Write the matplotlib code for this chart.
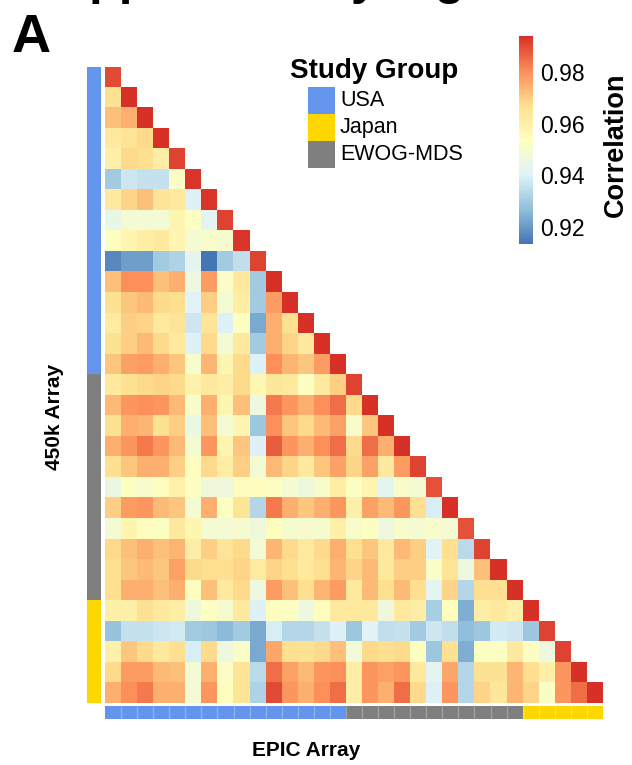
import numpy as np
import matplotlib
matplotlib.use("Agg")
from matplotlib import pyplot as plt
from matplotlib.colors import LinearSegmentedColormap, ListedColormap
from matplotlib.patches import Rectangle

plt.rcParams['font.family'] = ['Liberation Sans', 'DejaVu Sans']

# groups, same order on both axes (top->bottom, left->right)
groups = ["USA"] * 15 + ["EWOG-MDS"] * 11 + ["Japan"] * 5
group_colors = {"USA": "#6495ED", "Japan": "#FFD700", "EWOG-MDS": "#7F7F7F"}
legend_order = ["USA", "Japan", "EWOG-MDS"]
cbar_ticks = [0.92, 0.94, 0.96, 0.98]

# lower triangle correlations (450k rows vs EPIC columns), row i has i+1 values
usa_rows = [
    [0.990],
    [0.966, 0.994],
    [0.972, 0.975, 0.994],
    [0.963, 0.965, 0.968, 0.994],
    [0.960, 0.968, 0.967, 0.961, 0.991],
    [0.930, 0.937, 0.936, 0.936, 0.952, 0.993],
    [0.963, 0.969, 0.972, 0.965, 0.963, 0.940, 0.993],
    [0.944, 0.949, 0.948, 0.948, 0.958, 0.953, 0.942, 0.991],
    [0.953, 0.958, 0.961, 0.963, 0.958, 0.949, 0.951, 0.950, 0.993],
    [0.917, 0.921, 0.921, 0.930, 0.932, 0.942, 0.913, 0.930, 0.935, 0.991],
    [0.972, 0.980, 0.980, 0.972, 0.975, 0.946, 0.978, 0.952, 0.963, 0.930, 0.994],
    [0.966, 0.971, 0.973, 0.968, 0.967, 0.941, 0.970, 0.949, 0.961, 0.930, 0.978, 0.994],
    [0.962, 0.970, 0.969, 0.963, 0.965, 0.937, 0.965, 0.940, 0.953, 0.923, 0.975, 0.967, 0.994],
    [0.966, 0.970, 0.973, 0.968, 0.963, 0.940, 0.968, 0.949, 0.963, 0.930, 0.975, 0.969, 0.963, 0.994],
    [0.971, 0.977, 0.978, 0.975, 0.971, 0.951, 0.974, 0.958, 0.968, 0.940, 0.980, 0.974, 0.971, 0.978, 0.994],
]
ewog_rows = [
    [0.963, 0.966, 0.968, 0.969, 0.968, 0.959, 0.963, 0.961, 0.968, 0.957, 0.964, 0.963, 0.953, 0.963, 0.970, 0.991],
    [0.973, 0.979, 0.980, 0.979, 0.973, 0.951, 0.975, 0.958, 0.972, 0.946, 0.983, 0.979, 0.975, 0.980, 0.985, 0.968, 0.994],
    [0.966, 0.975, 0.974, 0.966, 0.970, 0.945, 0.972, 0.949, 0.958, 0.929, 0.980, 0.971, 0.968, 0.973, 0.977, 0.951, 0.971, 0.994],
    [0.975, 0.979, 0.983, 0.979, 0.973, 0.949, 0.979, 0.958, 0.971, 0.940, 0.987, 0.979, 0.975, 0.980, 0.985, 0.968, 0.985, 0.975, 0.994],
    [0.967, 0.971, 0.975, 0.975, 0.970, 0.954, 0.968, 0.961, 0.970, 0.949, 0.973, 0.969, 0.963, 0.971, 0.977, 0.969, 0.977, 0.963, 0.978, 0.991],
    [0.945, 0.953, 0.951, 0.954, 0.959, 0.953, 0.947, 0.947, 0.954, 0.954, 0.953, 0.949, 0.946, 0.951, 0.961, 0.953, 0.958, 0.942, 0.951, 0.949, 0.989],
    [0.970, 0.978, 0.979, 0.973, 0.971, 0.949, 0.975, 0.953, 0.965, 0.933, 0.983, 0.975, 0.971, 0.975, 0.979, 0.960, 0.977, 0.973, 0.979, 0.967, 0.939, 0.994],
    [0.949, 0.958, 0.954, 0.953, 0.963, 0.958, 0.949, 0.949, 0.950, 0.947, 0.954, 0.950, 0.950, 0.950, 0.960, 0.951, 0.953, 0.946, 0.951, 0.949, 0.951, 0.949, 0.989],
    [0.968, 0.972, 0.975, 0.972, 0.974, 0.961, 0.970, 0.965, 0.968, 0.949, 0.974, 0.968, 0.963, 0.968, 0.975, 0.967, 0.971, 0.963, 0.973, 0.970, 0.941, 0.967, 0.934, 0.991],
    [0.967, 0.971, 0.973, 0.971, 0.977, 0.968, 0.967, 0.967, 0.969, 0.962, 0.969, 0.967, 0.963, 0.967, 0.974, 0.969, 0.973, 0.963, 0.970, 0.970, 0.952, 0.965, 0.946, 0.972, 0.994],
    [0.967, 0.975, 0.975, 0.972, 0.975, 0.954, 0.972, 0.963, 0.968, 0.946, 0.978, 0.972, 0.967, 0.974, 0.978, 0.963, 0.973, 0.967, 0.973, 0.967, 0.942, 0.969, 0.933, 0.967, 0.967, 0.994],
]
japan_rows = [
    [0.960, 0.960, 0.966, 0.963, 0.961, 0.947, 0.953, 0.950, 0.963, 0.940, 0.954, 0.953, 0.946, 0.954, 0.963, 0.963, 0.963, 0.947, 0.963, 0.961, 0.931, 0.954, 0.924, 0.961, 0.963, 0.960, 0.994],
    [0.928, 0.936, 0.936, 0.937, 0.938, 0.930, 0.929, 0.926, 0.930, 0.923, 0.939, 0.933, 0.933, 0.936, 0.940, 0.929, 0.941, 0.935, 0.936, 0.930, 0.937, 0.935, 0.927, 0.929, 0.938, 0.937, 0.929, 0.991],
    [0.960, 0.971, 0.968, 0.963, 0.967, 0.939, 0.968, 0.946, 0.952, 0.923, 0.976, 0.967, 0.966, 0.968, 0.972, 0.948, 0.968, 0.967, 0.968, 0.953, 0.929, 0.966, 0.924, 0.953, 0.953, 0.963, 0.953, 0.946, 0.991],
    [0.968, 0.978, 0.978, 0.973, 0.972, 0.949, 0.975, 0.952, 0.965, 0.934, 0.985, 0.977, 0.973, 0.979, 0.980, 0.961, 0.979, 0.977, 0.979, 0.963, 0.942, 0.976, 0.933, 0.966, 0.966, 0.974, 0.967, 0.960, 0.979, 0.994],
    [0.975, 0.980, 0.983, 0.975, 0.975, 0.949, 0.979, 0.954, 0.965, 0.932, 0.990, 0.979, 0.975, 0.980, 0.985, 0.961, 0.979, 0.975, 0.985, 0.968, 0.940, 0.979, 0.933, 0.969, 0.964, 0.974, 0.969, 0.953, 0.979, 0.985, 0.994],
]

rows = usa_rows + ewog_rows + japan_rows
n = len(rows)
mat = np.full((n, n), np.nan)
for i, r in enumerate(rows):
    assert len(r) == i + 1, (i, len(r))
    mat[i, :i + 1] = r
mat = np.ma.masked_invalid(mat)

cmap = LinearSegmentedColormap.from_list(
    "rdylbu7", ["#4575b4", "#91bfdb", "#e0f3f8", "#ffffbf", "#fee090", "#fc8d59", "#d73027"])
vmin, vmax = 0.9134, 0.9939

W, H = 632, 765
fig = plt.figure(figsize=(W / 100, H / 100), dpi=100)


def box(x0, y0, x1, y1):
    # pixel box (top-left origin) -> figure rect
    return [x0 / W, 1 - y1 / H, (x1 - x0) / W, (y1 - y0) / H]


# main heatmap
ax = fig.add_axes(box(105, 67, 603, 703))
im = ax.imshow(mat, cmap=cmap, vmin=vmin, vmax=vmax, aspect="auto", interpolation="nearest")
ax.set_axis_off()

grp_idx = [legend_order.index(g) for g in groups]
grp_cmap = ListedColormap([group_colors[g] for g in legend_order])

# left annotation bar (450k)
axl = fig.add_axes(box(87, 67, 101, 703))
axl.imshow(np.array(grp_idx)[:, None], cmap=grp_cmap, vmin=-0.5, vmax=2.5,
           aspect="auto", interpolation="nearest")
axl.set_axis_off()

# bottom annotation bar (EPIC), faint separators between samples
axb = fig.add_axes(box(105, 706, 603, 719))
axb.imshow(np.array(grp_idx)[None, :], cmap=grp_cmap, vmin=-0.5, vmax=2.5,
           aspect="auto", interpolation="nearest", extent=(0, n, 0, 1))
axb.vlines(np.arange(1, n), 0, 1, colors=(1, 1, 1, 0.3), linewidth=0.8)
axb.set_xlim(0, n)
axb.set_ylim(0, 1)
axb.set_axis_off()

# colorbar
cax = fig.add_axes(box(519, 36, 533, 244))
cb = fig.colorbar(im, cax=cax, ticks=cbar_ticks)
cb.outline.set_visible(False)
cax.tick_params(length=0, labelsize=16.5, pad=5)
cax.set_yticklabels([f"{t:.2f}" for t in cbar_ticks])
fig.text(616 / W, 1 - 145 / H, "Correlation", rotation=90, fontsize=19.5,
         fontweight="bold", ha="center", va="center")

# legend
fig.text(290 / W, 1 - 71 / H, "Study Group", fontsize=20, fontweight="bold",
         ha="left", va="center")
for k, g in enumerate(legend_order):
    y0 = 87 + k * 27
    fig.add_artist(Rectangle((308 / W, 1 - (y0 + 27) / H), 27 / W, 27 / H,
                             transform=fig.transFigure, color=group_colors[g], lw=0))
    fig.text(340 / W, 1 - (y0 + 13.5) / H, g, fontsize=15.5, ha="left", va="center")

# axis titles
fig.text(54 / W, 1 - 417 / H, "450k Array", rotation=90, fontsize=15,
         fontweight="bold", ha="center", va="center")
fig.text(306 / W, 1 - 750 / H, "EPIC Array", fontsize=15, fontweight="bold",
         ha="center", va="center")

# panel letter and figure title (cut off at the top edge, as in the source)
fig.text(12 / W, 1 - 52 / H, "A", fontsize=39, fontweight="bold", ha="left", va="baseline")
fig.text(27 / W, 1 + 6 / H, "Supplementary Figure", fontsize=35, fontweight="bold",
         ha="left", va="baseline")

fig.savefig("out.png", dpi=100)
